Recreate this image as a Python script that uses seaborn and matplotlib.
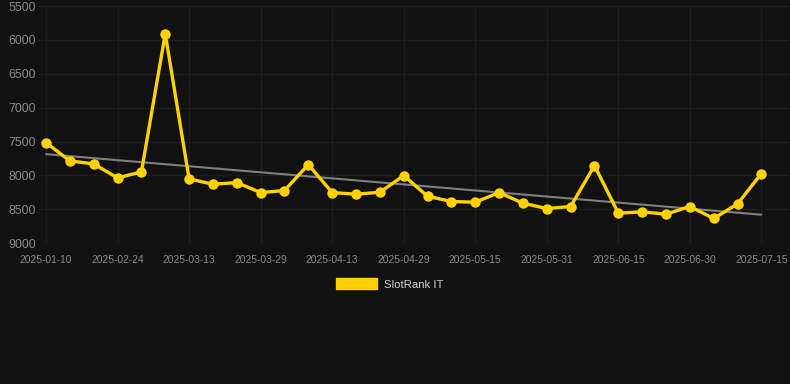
import numpy as np
import pandas as pd
import matplotlib
matplotlib.use("Agg")
import matplotlib.pyplot as plt
import matplotlib.patches as mpatches
import seaborn as sns

# Dane (pozycja rankingu, oś odwrócona)
rank_values = [7516, 7786, 7831, 8037, 7949, 5908, 8052, 8131, 8106, 8254,
               8224, 7840, 8254, 8278, 8249, 8003, 8308, 8386, 8396, 8254,
               8411, 8490, 8460, 7855, 8558, 8539, 8573, 8460, 8637, 8421,
               7973]
tick_labels = ["2025-01-10", "2025-02-24", "2025-03-13", "2025-03-29",
               "2025-04-13", "2025-04-29", "2025-05-15", "2025-05-31",
               "2025-06-15", "2025-06-30", "2025-07-15"]
series_name = "SlotRank IT"
y_ticks = [5500, 6000, 6500, 7000, 7500, 8000, 8500, 9000]

df = pd.DataFrame({"idx": np.arange(len(rank_values)), "rank": rank_values})

# Linia trendu (regresja liniowa)
coef = np.polyfit(df["idx"], df["rank"], 1)
df["trend"] = np.polyval(coef, df["idx"])

sns.set_theme(style="dark")
plt.rcParams["font.family"] = ["Liberation Sans", "DejaVu Sans"]

bg = "#111111"
yellow = "#FFD200"
fig = plt.figure(figsize=(7.9, 3.84), dpi=100, facecolor=bg)
ax = fig.add_axes([0.048, 0.367, 0.952, 0.617], facecolor=bg)

sns.lineplot(data=df, x="idx", y="trend", ax=ax, color="#808080",
             linewidth=1.5, zorder=2)
sns.lineplot(data=df, x="idx", y="rank", ax=ax, color=yellow, linewidth=2.4,
             marker="o", markersize=7.5, markeredgewidth=0, zorder=3)

ax.set_ylim(9000, 5500)
ax.set_xlim(-0.34, 31.2)
ax.set_yticks(y_ticks)
ax.set_xticks(df["idx"][::3])
ax.set_xticklabels(tick_labels)
ax.set_xlabel("")
ax.set_ylabel("")

ax.grid(True, color="#1d1d1d", linewidth=1)
for s in ax.spines.values():
    s.set_visible(False)
ax.tick_params(axis="y", colors="#8a8a8a", labelsize=8.9, length=0, pad=1.5)
ax.tick_params(axis="x", colors="#8a8a8a", labelsize=7.4, length=0, pad=8.5)

handle = mpatches.Patch(color=yellow, label=series_name)
leg = fig.legend(handles=[handle], loc="center", bbox_to_anchor=(0.493, 0.26),
                 frameon=False, fontsize=8.2, handlelength=3.6,
                 handleheight=1.1, handletextpad=0.6)
for t in leg.get_texts():
    t.set_color("#d0d0d0")

fig.savefig("out.png", dpi=100, facecolor=bg)
